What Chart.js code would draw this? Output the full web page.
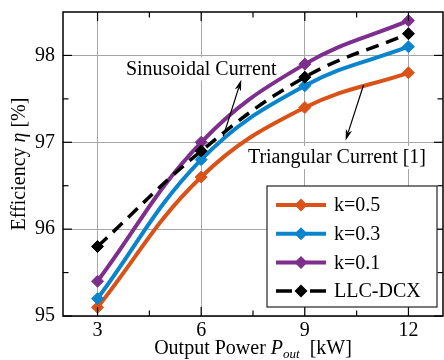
<!DOCTYPE html>
<html>
<head>
<meta charset="utf-8">
<script src="https://cdn.jsdelivr.net/npm/chart.js@4.4.1/dist/chart.umd.min.js"></script>
<style>
  html, body { margin: 0; padding: 0; background: #fff; }
  canvas { display: block; }
</style>
</head>
<body>
<canvas id="chartEff" width="444" height="360"></canvas>
<script>
// data
const powerKW = [3, 6, 9, 12];
const effK05 = [95.1, 96.6, 97.4, 97.8];
const effK03 = [95.2, 96.8, 97.65, 98.1];
const effK01 = [95.4, 97.0, 97.9, 98.4];
const effLLC = [95.8, 96.9, 97.75, 98.25];

const xTicks = [3, 6, 9, 12];
const yTicks = [95, 96, 97, 98];
const xMinor = [4.5, 7.5, 10.5];
const yMinor = [95.5, 96.5, 97.5];

const seriesNames = ['k=0.5', 'k=0.3', 'k=0.1', 'LLC-DCX'];
const seriesColors = ['#D95319', '#0A84CC', '#7E2F8E', '#000000'];

const SERIF = '"Liberation Serif", "DejaVu Serif", serif';

function pts(vals) {
  return powerKW.map((x, i) => ({ x: x, y: vals[i] }));
}

function seriesDs(i, vals, extra) {
  return Object.assign({
    label: seriesNames[i],
    data: pts(vals),
    borderColor: seriesColors[i],
    backgroundColor: seriesColors[i],
    borderWidth: 4,
    pointStyle: 'rectRot',
    pointRadius: 6,
    pointBorderWidth: 1,
    pointBorderColor: seriesColors[i],
    tension: 0.4,
    fill: false
  }, extra || {});
}

// frame, inner ticks, axis titles
const framePlugin = {
  id: 'frame',
  afterDraw(chart) {
    const { ctx, chartArea: a, scales: { x, y } } = chart;
    ctx.save();
    ctx.strokeStyle = '#000';
    ctx.lineWidth = 1.2;
    const tick = (px, py, dx, dy) => { ctx.beginPath(); ctx.moveTo(px, py); ctx.lineTo(px + dx, py + dy); ctx.stroke(); };
    xTicks.forEach(v => { const p = x.getPixelForValue(v); tick(p, a.bottom, 0, -9); tick(p, a.top, 0, 9); });
    xMinor.forEach(v => { const p = x.getPixelForValue(v); tick(p, a.bottom, 0, -5.5); tick(p, a.top, 0, 5.5); });
    yTicks.forEach(v => { const p = y.getPixelForValue(v); tick(a.left, p, 9, 0); tick(a.right, p, -9, 0); });
    yMinor.forEach(v => { const p = y.getPixelForValue(v); tick(a.left, p, 5.5, 0); tick(a.right, p, -5.5, 0); });
    ctx.lineWidth = 1.5;
    ctx.strokeRect(a.left, a.top, a.right - a.left, a.bottom - a.top);

    // axis titles with italic symbols
    ctx.fillStyle = '#000';
    ctx.textBaseline = 'alphabetic';
    const parts = [
      ['Output Power ', 'normal', 20, 0],
      ['P', 'italic', 20, 0],
      ['out', 'italic', 13, 4],
      ['  [kW]', 'normal', 20, 0]
    ];
    let w = 0;
    parts.forEach(p => { ctx.font = p[1] + ' ' + p[2] + 'px ' + SERIF; w += ctx.measureText(p[0]).width; });
    let cx = (a.left + a.right) / 2 - w / 2;
    parts.forEach(p => {
      ctx.font = p[1] + ' ' + p[2] + 'px ' + SERIF;
      ctx.fillText(p[0], cx, 354 + p[3]);
      cx += ctx.measureText(p[0]).width;
    });

    const yparts = [['Efficiency ', 'normal'], ['η', 'italic'], [' [%]', 'normal']];
    ctx.translate(25, (a.top + a.bottom) / 2);
    ctx.rotate(-Math.PI / 2);
    w = 0;
    yparts.forEach(p => { ctx.font = p[1] + ' 20px ' + SERIF; w += ctx.measureText(p[0]).width; });
    cx = -w / 2;
    yparts.forEach(p => {
      ctx.font = p[1] + ' 20px ' + SERIF;
      ctx.fillText(p[0], cx, 0);
      cx += ctx.measureText(p[0]).width;
    });
    ctx.restore();
  }
};

// annotation labels (data coords) and arrows
const notes = [
  { text: 'Sinusoidal Current', x: 6.0, y: 97.85, from: [6.64, 97.07], to: [7.16, 97.72] },
  { text: 'Triangular Current [1]', x: 9.93, y: 96.83, from: [10.70, 97.66], to: [10.18, 97.02] }
];

function arrow(ctx, x0, y0, x1, y1) {
  const ang = Math.atan2(y1 - y0, x1 - x0);
  const L = 11, W = 3.2;
  ctx.beginPath();
  ctx.moveTo(x0, y0);
  ctx.lineTo(x1 - L * 0.8 * Math.cos(ang), y1 - L * 0.8 * Math.sin(ang));
  ctx.stroke();
  ctx.beginPath();
  ctx.moveTo(x1, y1);
  ctx.lineTo(x1 - L * Math.cos(ang) + W * Math.sin(ang), y1 - L * Math.sin(ang) - W * Math.cos(ang));
  ctx.lineTo(x1 - L * 0.75 * Math.cos(ang), y1 - L * 0.75 * Math.sin(ang));
  ctx.lineTo(x1 - L * Math.cos(ang) - W * Math.sin(ang), y1 - L * Math.sin(ang) + W * Math.cos(ang));
  ctx.closePath();
  ctx.fill();
}

const notesPlugin = {
  id: 'notes',
  beforeDatasetsDraw(chart) {
    const { ctx, scales: { x, y } } = chart;
    ctx.save();
    ctx.font = '20px ' + SERIF;
    ctx.textAlign = 'center';
    ctx.textBaseline = 'middle';
    notes.forEach(n => {
      const px = x.getPixelForValue(n.x), py = y.getPixelForValue(n.y);
      const w = ctx.measureText(n.text).width;
      ctx.fillStyle = '#fff';
      ctx.fillRect(px - w / 2 - 1, py - 11, w + 2, 23);
      ctx.fillStyle = '#000';
      ctx.fillText(n.text, px, py + 1);
    });
    ctx.restore();
  },
  afterDatasetsDraw(chart) {
    const { ctx, scales: { x, y } } = chart;
    ctx.save();
    ctx.strokeStyle = '#000';
    ctx.fillStyle = '#000';
    ctx.lineWidth = 1.2;
    notes.forEach(n => {
      arrow(ctx, x.getPixelForValue(n.from[0]), y.getPixelForValue(n.from[1]),
        x.getPixelForValue(n.to[0]), y.getPixelForValue(n.to[1]));
    });
    ctx.restore();
  }
};

// boxed legend, lower right
const legendPlugin = {
  id: 'boxLegend',
  afterDraw(chart) {
    const { ctx, chartArea: a } = chart;
    const bx = a.right - 176, by = a.bottom - 130, bw = 170, bh = 121;
    ctx.save();
    ctx.fillStyle = '#fff';
    ctx.fillRect(bx, by, bw, bh);
    ctx.strokeStyle = '#222';
    ctx.lineWidth = 1.2;
    ctx.strokeRect(bx, by, bw, bh);
    ctx.font = '20px ' + SERIF;
    ctx.textBaseline = 'middle';
    seriesNames.forEach((name, i) => {
      const ry = by + 19 + i * 28.7;
      const x0 = bx + 9, x1 = bx + 59, xm = (x0 + x1) / 2;
      ctx.strokeStyle = seriesColors[i];
      ctx.fillStyle = seriesColors[i];
      ctx.lineWidth = i === 3 ? 3.5 : 4;
      ctx.beginPath();
      if (i === 3) {
        ctx.moveTo(x0, ry); ctx.lineTo(x0 + 16, ry);
        ctx.moveTo(x1 - 16, ry); ctx.lineTo(x1, ry);
      } else {
        ctx.moveTo(x0, ry); ctx.lineTo(x1, ry);
      }
      ctx.stroke();
      ctx.beginPath();
      ctx.moveTo(xm, ry - 6.5); ctx.lineTo(xm + 6.5, ry); ctx.lineTo(xm, ry + 6.5); ctx.lineTo(xm - 6.5, ry);
      ctx.closePath();
      ctx.fill();
      ctx.fillStyle = '#000';
      ctx.fillText(name, bx + 67, ry + 1);
    });
    ctx.restore();
  }
};

new Chart(document.getElementById('chartEff'), {
  type: 'line',
  data: {
    datasets: [
      seriesDs(3, effLLC, { borderWidth: 3.5, borderDash: [13, 8], order: 0 }),
      seriesDs(2, effK01, { order: 1 }),
      seriesDs(1, effK03, { order: 2 }),
      seriesDs(0, effK05, { order: 3 })
    ]
  },
  options: {
    responsive: false,
    devicePixelRatio: 1,
    animation: false,
    layout: { autoPadding: false, padding: { top: 12, right: 1, left: 0, bottom: 0 } },
    plugins: { legend: { display: false }, tooltip: { enabled: false } },
    scales: {
      x: {
        type: 'linear', min: 2, max: 13,
        afterBuildTicks: s => { s.ticks = xTicks.map(v => ({ value: v })); },
        afterFit: s => { s.height = 44; s.paddingLeft = 0; s.paddingRight = 0; },
        grid: { color: '#a6a6a6', lineWidth: 1, drawTicks: false },
        border: { display: false },
        ticks: { color: '#000', font: { family: SERIF, size: 20 }, padding: 3, maxRotation: 0 }
      },
      y: {
        type: 'linear', min: 95, max: 98.5,
        afterBuildTicks: s => { s.ticks = yTicks.map(v => ({ value: v })); },
        afterFit: s => { s.width = 63; s.paddingTop = 0; s.paddingBottom = 0; },
        grid: { color: '#a6a6a6', lineWidth: 1, drawTicks: false },
        border: { display: false },
        ticks: { color: '#000', font: { family: SERIF, size: 20 }, padding: 8 }
      }
    }
  },
  plugins: [notesPlugin, framePlugin, legendPlugin]
});
</script>
</body>
</html>
